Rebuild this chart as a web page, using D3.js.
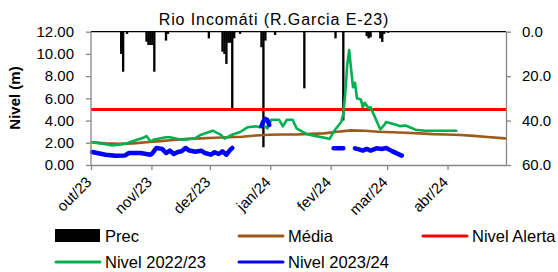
<!DOCTYPE html>
<html><head><meta charset="utf-8">
<script src="https://cdn.jsdelivr.net/npm/d3@7/dist/d3.min.js"></script>
<style>
body{margin:0;background:#fff;}
svg{display:block;font-family:"Liberation Sans",Arial,sans-serif;}
</style>
</head><body>
<svg id="chart" width="558" height="272"></svg>
<script>
// ---------- data ----------
const chartTitle = "Rio Incomáti (R.Garcia E-23)";
const yTitle = "Nivel (m)";
const monthLabels = ["out/23","nov/23","dez/23","jan/24","fev/24","mar/24","abr/24"];
const levelTicks = [0, 2, 4, 6, 8, 10, 12];
const precTicks = [0, 20, 40, 60];
const alertLevel = 5.0;
const seriesNames = ["Prec", "Média", "Nivel Alerta", "Nivel 2022/23", "Nivel 2023/24"];
// day of season: 0 = 1 Oct 2023
const precDay = [15, 16, 18, 28, 29, 30, 31, 32, 38, 39, 60, 67, 68, 69, 70, 71, 72, 73, 76, 87, 88, 89, 94, 109, 125, 129, 141, 142, 143, 148, 149, 150, 152];
const precMm  = [10, 18,  1, 4.5, 6,  6,  6, 18,  4,  1,  3,  9, 10, 14.5, 5,  5, 35,  3,  1,  7, 52,  4, 1.5, 25.5, 3, 40,  2,  3, 2.5, 3, 4.6, 1, 0.5];

const mediaDay   = [0, 7, 14, 21, 28, 35, 42, 49, 56, 63, 70, 77, 84, 91, 98, 105, 112, 119, 126, 133, 140, 147, 154, 161, 168, 175, 182, 189, 196, 203, 212];
const mediaLevel = [2.05, 1.95, 1.9, 1.95, 2.05, 2.15, 2.25, 2.35, 2.4, 2.45, 2.5, 2.55, 2.65, 2.72, 2.75, 2.75, 2.8, 2.85, 3.0, 3.12, 3.08, 3.0, 2.95, 2.9, 2.85, 2.78, 2.74, 2.7, 2.62, 2.52, 2.4];

const nivel2223Day   = [0, 4, 10, 17, 22, 27, 28, 30, 32, 38, 40, 44, 48, 53, 56, 62, 66, 68, 72, 76, 80, 84, 86, 88, 90, 92, 96, 98, 100, 103, 105, 110, 115, 120, 122, 124, 126, 128, 129, 130, 131, 132, 133, 134, 135, 136, 138, 139, 140, 142, 143, 145, 148, 150, 151, 156, 158, 161, 164, 166, 171, 179, 187];
const nivel2223Level = [2.05, 1.95, 1.77, 1.9, 2.2, 2.5, 2.6, 2.13, 2.3, 2.5, 2.5, 2.34, 2.28, 2.43, 2.73, 3.09, 2.73, 2.37, 2.73, 2.97, 3.4, 3.48, 3.4, 3.6, 3.3, 4.08, 4.08, 3.48, 4.08, 4.08, 3.3, 2.8, 2.6, 2.43, 2.34, 3.0, 3.45, 3.9, 4.6, 6.5, 9.0, 10.35, 8.6, 7.0, 7.4, 6.0, 5.9, 5.2, 5.6, 5.1, 5.2, 4.4, 3.2, 3.6, 3.87, 3.63, 3.5, 3.55, 3.33, 3.18, 3.09, 3.08, 3.08];

const nivel2324Day   = [0, 2, 7, 12, 17, 19, 25, 30, 31, 33, 36, 38, 40, 42, 44, 46, 48, 50, 53, 56, 58, 61, 63, 65, 67, 69, 71, 72, 73, 87, 88, 89, 90, 91, 92, 124, 129, 130, 135, 137, 139, 141, 143, 146, 149, 151, 154, 157, 159];
const nivel2324Level = [1.17, 1.1, 0.93, 0.84, 0.86, 1.08, 1.08, 0.93, 1.05, 1.53, 1.45, 1.08, 1.29, 0.99, 1.17, 1.23, 1.53, 1.3, 1.2, 1.29, 1.08, 0.93, 1.15, 0.99, 1.23, 0.93, 1.38, 1.53, null, 3.5, 3.95, 4.15, 4.05, 3.6, null, 1.5, 1.5, null, 1.5, 1.4, 1.3, 1.45, 1.3, 1.5, 1.45, 1.53, 1.25, 1.0, 0.85];

const colors = {prec:"#000000", media:"#9C5A1C", alert:"#FF0000", n2223:"#00B050", n2324:"#0000FF", axis:"#868686"};

// ---------- layout ----------
const plot = {left: 91, right: 506, top: 31.7, bottom: 165};
const seasonStart = new Date(2023, 9, 1);
const seasonEnd = new Date(2024, 4, 1);
const dayDate = d => d3.timeHour.offset(d3.timeDay.offset(seasonStart, d), 12);

const svg = d3.select("#chart");
const x = d3.scaleTime().domain([seasonStart, seasonEnd]).range([plot.left, plot.right]);
const yL = d3.scaleLinear().domain([0, 12]).range([plot.bottom, plot.top]);
const yR = d3.scaleLinear().domain([0, 60]).range([plot.top, plot.bottom]);
const dayW = x(d3.timeDay.offset(seasonStart, 1)) - x(seasonStart);

// precipitation bars (hanging from top)
const precData = precDay.map((d, i) => ({d, v: precMm[i]}));
svg.append("g").selectAll("rect").data(precData).join("rect")
  .attr("x", p => x(dayDate(p.d)) - dayW * 0.6)
  .attr("y", yR(0))
  .attr("width", dayW * 1.2)
  .attr("height", p => yR(p.v) - yR(0))
  .attr("fill", colors.prec);

// top border line (secondary category axis)
svg.append("line").attr("x1", plot.left).attr("x2", plot.right)
  .attr("y1", yR(0)).attr("y2", yR(0)).attr("stroke", "#000").attr("stroke-width", 1.3);

const line = d3.line().defined(p => p.v !== null).x(p => x(dayDate(p.d))).y(p => yL(p.v));

function drawSeries(days, vals, color, w) {
  const data = days.map((d, i) => ({d, v: vals[i]}));
  svg.append("path").datum(data).attr("d", line)
    .attr("fill", "none").attr("stroke", color).attr("stroke-width", w)
    .attr("stroke-linejoin", "round").attr("stroke-linecap", "round");
}
drawSeries(mediaDay, mediaLevel, colors.media, 2.6);
// alert level
svg.append("line").attr("x1", plot.left).attr("x2", plot.right)
  .attr("y1", yL(alertLevel)).attr("y2", yL(alertLevel))
  .attr("stroke", colors.alert).attr("stroke-width", 3);
drawSeries(nivel2223Day, nivel2223Level, colors.n2223, 2.6);
drawSeries(nivel2324Day, nivel2324Level, colors.n2324, 4.5);

// ---------- axes ----------
function styleAxis(g) {
  g.select(".domain").attr("stroke", colors.axis).attr("stroke-width", 1.3);
  g.selectAll(".tick line").attr("stroke", colors.axis).attr("stroke-width", 1.3);
  g.selectAll(".tick text").attr("fill", "#000").style("font-size", "15px");
}
svg.append("g").attr("transform", `translate(${plot.left},0)`)
  .call(d3.axisLeft(yL).tickValues(levelTicks).tickFormat(d3.format(".2f")).tickSize(5).tickSizeOuter(0).tickPadding(12))
  .call(styleAxis).call(g => g.select(".domain").attr("d", `M0,${plot.top}V${plot.bottom}`));

svg.append("g").attr("transform", `translate(${plot.right},0)`)
  .call(d3.axisRight(yR).tickValues(precTicks).tickFormat(d3.format(".1f")).tickSize(5).tickSizeOuter(0).tickPadding(11))
  .call(styleAxis);

const monthTicks = d3.timeMonth.range(seasonStart, seasonEnd);
const xAxis = svg.append("g").attr("transform", `translate(0,${plot.bottom})`)
  .call(d3.axisBottom(x).tickValues(monthTicks).tickFormat((d, i) => monthLabels[i]).tickSize(5).tickSizeOuter(0))
  .call(styleAxis);
xAxis.selectAll(".tick text")
  .attr("text-anchor", "end")
  .attr("dy", 0).attr("y", 0)
  .attr("transform", "translate(1,18) rotate(-45)");

// titles
svg.append("text").attr("x", 274).attr("y", 25).attr("text-anchor", "middle")
  .style("font-size", "16px").style("letter-spacing", "0.9px").text(chartTitle);
svg.append("text").attr("transform", "translate(20,98) rotate(-90)").attr("text-anchor", "middle")
  .style("font-size", "15px").style("font-weight", "bold").text(yTitle);

// ---------- legend ----------
const legendItems = [
  {name: seriesNames[0], type: "rect", color: colors.prec, x: 55, y: 236},
  {name: seriesNames[1], type: "line", color: colors.media, x: 238, y: 236},
  {name: seriesNames[2], type: "line", color: colors.alert, x: 422, y: 236},
  {name: seriesNames[3], type: "line", color: colors.n2223, x: 55, y: 262},
  {name: seriesNames[4], type: "line", color: colors.n2324, x: 238, y: 262}
];
const lg = svg.append("g").selectAll("g").data(legendItems).join("g")
  .attr("transform", d => `translate(${d.x},${d.y})`);
lg.filter(d => d.type === "rect").append("rect").attr("x", 0).attr("y", -7).attr("width", 45).attr("height", 13).attr("fill", d => d.color);
lg.filter(d => d.type === "line").append("line").attr("x1", 1).attr("x2", 45).attr("y1", 0).attr("y2", 0)
  .attr("stroke", d => d.color).attr("stroke-width", 3).attr("stroke-linecap", "round");
lg.append("text").attr("x", 50).attr("y", 6).style("font-size", "16.5px").text(d => d.name);
</script>
</body></html>
